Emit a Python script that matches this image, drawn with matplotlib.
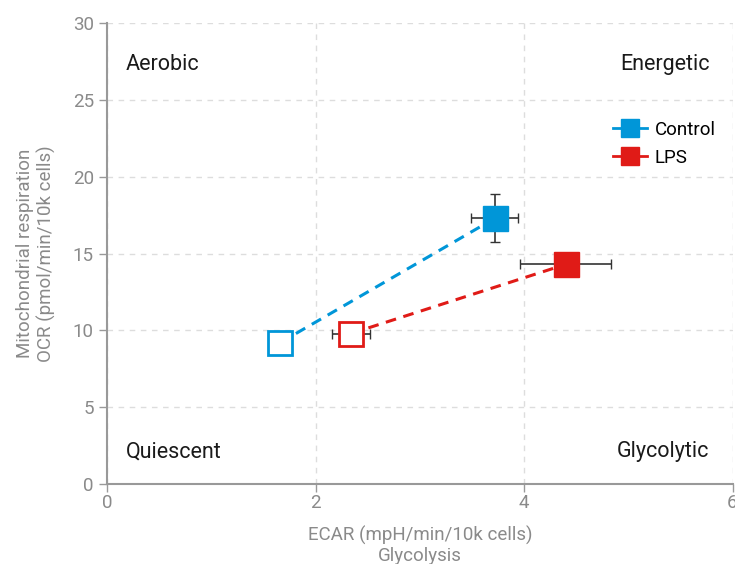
import matplotlib.pyplot as plt

plt.rcParams['font.family'] = ['Roboto', 'DejaVu Sans']

groups = ['Control', 'LPS']
colors = ['#0096d8', '#e01b17']
ecar_base = [1.66, 2.34]
ocr_base = [9.2, 9.8]
ecar_base_err = [0.0, 0.18]
ocr_base_err = [0.0, 0.0]
ecar_stim = [3.72, 4.40]
ocr_stim = [17.3, 14.3]
ecar_stim_err = [0.225, 0.435]
ocr_stim_err = [1.55, 0.0]

quadrants = [('Aerobic', 0.18, 27.3, 'left'), ('Energetic', 5.78, 27.3, 'right'),
             ('Quiescent', 0.18, 2.1, 'left'), ('Glycolytic', 5.78, 2.1, 'right')]

grey = '#8a8a8a'
fig = plt.figure(figsize=(7.35, 5.64), dpi=100)
ax = fig.add_axes([0.1456, 0.1418, 0.851, 0.817])

for i, g in enumerate(groups):
    c = colors[i]
    ax.plot([ecar_base[i], ecar_stim[i]], [ocr_base[i], ocr_stim[i]], ls=(0, (3.5, 2.5)),
            color=c, lw=2.2, zorder=2)
    ax.errorbar(ecar_base[i], ocr_base[i], xerr=ecar_base_err[i] or None,
                yerr=ocr_base_err[i] or None, fmt='none', ecolor='#333333',
                elinewidth=1.2, capsize=3.5, zorder=3)
    ax.errorbar(ecar_stim[i], ocr_stim[i], xerr=ecar_stim_err[i] or None,
                yerr=ocr_stim_err[i] or None, fmt='none', ecolor='#333333',
                elinewidth=1.2, capsize=3.5, zorder=3)
    ax.plot(ecar_base[i], ocr_base[i], 's', ms=17, mfc='white', mec=c, mew=2, zorder=4)
    ax.plot(ecar_stim[i], ocr_stim[i], 's', ms=18, mfc=c, mec=c, zorder=4)
    ax.plot([], [], '-s', color=c, lw=2, ms=13, label=g)

for txt, x, y, ha in quadrants:
    ax.text(x, y, txt, ha=ha, va='center', fontsize=15.5, color='#1a1a1a')

ax.set_xlim(0, 6)
ax.set_ylim(0, 30)
ax.set_xticks([0, 2, 4, 6])
ax.set_yticks(range(0, 31, 5))
ax.grid(True, ls=(0, (4, 4)), color='#dddddd', lw=1)
ax.set_axisbelow(True)
for s in ['top', 'right']:
    ax.spines[s].set_visible(False)
for s in ['left', 'bottom']:
    ax.spines[s].set_color('#999999')
    ax.spines[s].set_linewidth(1.5)
ax.tick_params(colors='#999999', labelcolor=grey, labelsize=13.5, length=6, width=1)
ax.tick_params(axis='x', pad=1)
ax.set_xlabel('ECAR (mpH/min/10k cells)\nGlycolysis', color=grey, fontsize=13.5, labelpad=10,
              linespacing=1.15)
ax.set_ylabel('Mitochondrial respiration\nOCR (pmol/min/10k cells)', color=grey, fontsize=13.5,
              labelpad=12)

leg = ax.legend(loc='upper right', bbox_to_anchor=(1.0, 0.825), frameon=False, fontsize=13.5,
                handlelength=1.8, handletextpad=0.4, labelspacing=0.55)

fig.savefig('out.png', dpi=100)
